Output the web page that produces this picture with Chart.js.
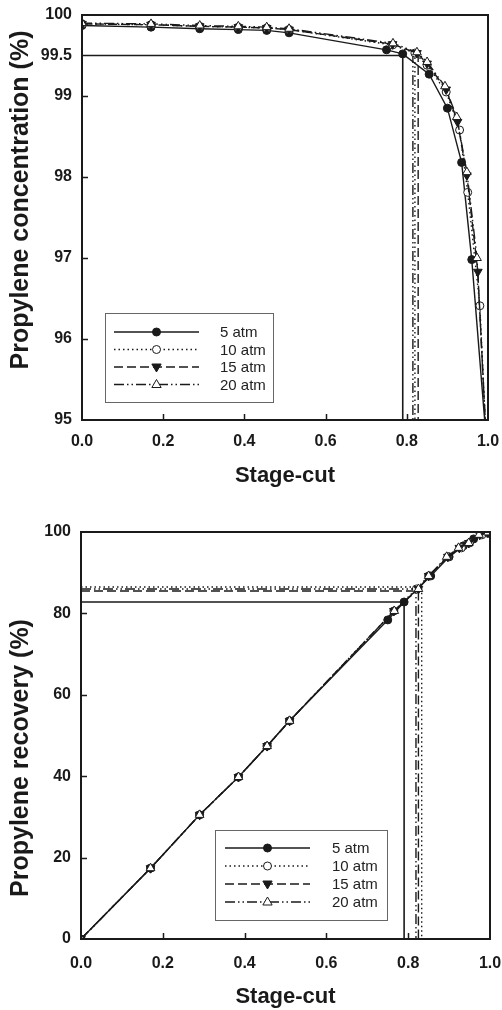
<!DOCTYPE html>
<html>
<head>
<meta charset="utf-8">
<script src="https://cdn.jsdelivr.net/npm/chart.js@4/dist/chart.umd.min.js"></script>
<style>
  html, body { margin: 0; padding: 0; background: #fff; }
  #wrap { position: relative; width: 502px; height: 1010px; }
  canvas { position: absolute; left: 0; }
</style>
</head>
<body>
<div id="wrap">
  <canvas id="conc-chart" width="502" height="500" style="top:0;width:502px;height:500px"></canvas>
  <canvas id="recov-chart" width="502" height="510" style="top:500px;width:502px;height:510px"></canvas>
</div>
<script>
// --- data ---
const pressureLabels = ['5 atm', '10 atm', '15 atm', '20 atm'];

// stage-cut of each simulated run, per feed pressure
const stageCut5  = [0, 0.17, 0.29, 0.385, 0.455, 0.51, 0.75, 0.79, 0.855, 0.90, 0.935, 0.96, 0.995];
const stageCut10 = [0, 0.17, 0.29, 0.385, 0.455, 0.51, 0.765, 0.82, 0.85, 0.897, 0.93, 0.95, 0.98, 0.995];
const stageCut15 = [0, 0.17, 0.29, 0.385, 0.455, 0.51, 0.765, 0.825, 0.85, 0.897, 0.925, 0.948, 0.975, 0.995];
const stageCut20 = [0, 0.17, 0.29, 0.385, 0.455, 0.51, 0.766, 0.825, 0.85, 0.894, 0.923, 0.948, 0.973, 0.995];

// propylene concentration in product (%)
const conc5  = [99.87, 99.85, 99.83, 99.82, 99.81, 99.78, 99.57, 99.52, 99.27, 98.85, 98.18, 96.98, 94.8];
const conc10 = [99.89, 99.88, 99.86, 99.85, 99.84, 99.82, 99.63, 99.53, 99.38, 99.05, 98.58, 97.81, 96.41, 94.8];
const conc15 = [99.89, 99.88, 99.86, 99.85, 99.84, 99.82, 99.64, 99.53, 99.40, 99.08, 98.68, 98.02, 96.83, 94.8];
const conc20 = [99.90, 99.89, 99.87, 99.86, 99.85, 99.83, 99.65, 99.54, 99.42, 99.12, 98.74, 98.06, 97.00, 94.8];

// propylene recovery (%)
const recov5  = [0, 17.4, 30.5, 39.8, 47.4, 53.6, 78.4, 82.8, 89.2, 93.9, 96.6, 98.3, 99.7];
const recov10 = [0, 17.4, 30.5, 39.8, 47.4, 53.6, 80.6, 86.0, 89.2, 93.9, 96.1, 97.3, 99.3, 99.9];
const recov15 = [0, 17.4, 30.5, 39.8, 47.4, 53.6, 80.6, 86.0, 89.2, 93.9, 96.1, 97.3, 99.3, 99.9];
const recov20 = [0, 17.4, 30.5, 39.8, 47.4, 53.6, 80.6, 86.0, 89.2, 93.9, 96.1, 97.3, 99.3, 99.9];

// 99.5 % purity target: stage-cut read-off lines
const concRef5X  = [0, 0.79, 0.79];   const concRef5Y  = [99.5, 99.5, 95];
const concRef10X = [0.82, 0.82];      const concRef10Y = [99.53, 95];
const concRef15X = [0.828, 0.828];    const concRef15Y = [99.53, 95];
const concRef20X = [0.815, 0.815];    const concRef20Y = [99.53, 95];

const recovRef5X  = [0, 0.79, 0.79];    const recovRef5Y  = [82.8, 82.8, 0];
const recovRef10X = [0, 0.833, 0.833];  const recovRef10Y = [86.5, 86.5, 0];
const recovRef15X = [0, 0.825, 0.825];  const recovRef15Y = [85.5, 85.5, 0];
const recovRef20X = [0, 0.819, 0.819];  const recovRef20Y = [86.0, 86.0, 0];

const stageCutTicks = [0, 0.2, 0.4, 0.6, 0.8, 1.0];
const concTicks = [95, 96, 97, 98, 99, 99.5, 100];
const recovTicks = [0, 20, 40, 60, 80, 100];

// --- styling ---
const INK = '#1a1a1a';
const FONT = '"Liberation Sans", Arial, Helvetica, sans-serif';
const lineStyles = [
    { dash: [], point: 'circle', fill: INK, radius: 4, rotation: 0 },
    { dash: [1.5, 3], point: 'circle', fill: '#fff', radius: 4, rotation: 0 },
    { dash: [9, 4], point: 'triangle', fill: INK, radius: 5, rotation: 180 },
    { dash: [10, 3, 1.5, 3, 1.5, 3], point: 'triangle', fill: '#fff', radius: 5, rotation: 0 },
];

const toPoints = (xs, ys) => xs.map((x, i) => ({ x: x, y: ys[i] }));

function seriesDatasets(xLists, yLists) {
    return xLists.map((xs, i) => ({
        label: pressureLabels[i],
        data: toPoints(xs, yLists[i]),
        showLine: true,
        borderColor: INK,
        borderWidth: 1.4,
        borderDash: lineStyles[i].dash,
        pointStyle: lineStyles[i].point,
        pointRadius: lineStyles[i].radius,
        pointRotation: lineStyles[i].rotation,
        pointBackgroundColor: lineStyles[i].fill,
        pointBorderColor: INK,
        pointBorderWidth: 1,
        order: 3 - i,
    }));
}

function refDatasets(xLists, yLists) {
    return xLists.map((xs, i) => ({
        label: 'ref ' + pressureLabels[i],
        data: toPoints(xs, yLists[i]),
        showLine: true,
        borderColor: INK,
        borderWidth: i === 0 ? 1.6 : 1.4,
        borderDash: lineStyles[i].dash,
        pointRadius: 0,
        order: 10,
    }));
}

function drawMarker(ctx, st, x, y) {
    ctx.save();
    ctx.translate(x, y);
    ctx.rotate(st.rotation * Math.PI / 180);
    ctx.beginPath();
    if (st.point === 'circle') {
        ctx.arc(0, 0, st.radius, 0, Math.PI * 2);
    } else {
        const r = st.radius;
        ctx.moveTo(0, -r);
        ctx.lineTo(r * 0.93, r * 0.6);
        ctx.lineTo(-r * 0.93, r * 0.6);
        ctx.closePath();
    }
    ctx.fillStyle = st.fill;
    ctx.fill();
    ctx.lineWidth = 1;
    ctx.strokeStyle = INK;
    ctx.stroke();
    ctx.restore();
}

// plot frame, inward tick marks, y title and the boxed legend
const framePlugin = {
    id: 'frame',
    afterDraw(chart, args, opts) {
        const { ctx, chartArea: a, scales } = chart;
        ctx.save();
        ctx.strokeStyle = INK;
        ctx.lineWidth = 2;
        ctx.strokeRect(a.left, a.top, a.right - a.left, a.bottom - a.top);

        ctx.lineWidth = 1.5;
        ctx.beginPath();
        opts.xTicks.forEach(v => {
            const px = Math.round(scales.x.getPixelForValue(v)) + 0.5;
            ctx.moveTo(px, a.bottom);
            ctx.lineTo(px, a.bottom - 6);
        });
        opts.yTicks.forEach(v => {
            const py = Math.round(scales.y.getPixelForValue(v)) + 0.5;
            ctx.moveTo(a.left, py);
            ctx.lineTo(a.left + 6, py);
        });
        ctx.stroke();

        // rotated y-axis title
        ctx.save();
        ctx.translate(opts.yTitle.x, opts.yTitle.y);
        ctx.rotate(-Math.PI / 2);
        ctx.font = 'bold 25px ' + FONT;
        ctx.fillStyle = INK;
        ctx.textAlign = 'center';
        ctx.textBaseline = 'middle';
        ctx.fillText(opts.yTitle.text, 0, 0);
        ctx.restore();

        const box = opts.legend;
        ctx.fillStyle = '#fff';
        ctx.fillRect(box.x, box.y, box.w, box.h);
        ctx.strokeStyle = '#666';
        ctx.lineWidth = 1;
        ctx.strokeRect(box.x + 0.5, box.y + 0.5, box.w, box.h);
        ctx.font = '15px ' + FONT;
        ctx.textBaseline = 'middle';
        pressureLabels.forEach((label, i) => {
            const y = box.y + box.first + i * box.step;
            ctx.strokeStyle = INK;
            ctx.lineWidth = 1.4;
            ctx.setLineDash(lineStyles[i].dash);
            ctx.beginPath();
            ctx.moveTo(box.lineFrom, y);
            ctx.lineTo(box.lineTo, y);
            ctx.stroke();
            ctx.setLineDash([]);
            drawMarker(ctx, lineStyles[i], (box.lineFrom + box.lineTo) / 2, y);
            ctx.fillStyle = '#222';
            ctx.fillText(label, box.textX, y + 1);
        });
        ctx.restore();
    }
};

function makeChart(id, cfg) {
    return new Chart(document.getElementById(id), {
        type: 'scatter',
        data: { datasets: cfg.datasets },
        options: {
            responsive: false,
            animation: false,
            devicePixelRatio: 1,
            layout: { padding: { top: cfg.top, right: 0, left: 0, bottom: 0 } },
            plugins: {
                legend: { display: false },
                tooltip: { enabled: false },
                frame: cfg.frame,
            },
            scales: {
                x: {
                    type: 'linear',
                    min: 0, max: 1,
                    afterBuildTicks: s => { s.ticks = stageCutTicks.map(v => ({ value: v })); },
                    afterFit: s => {
                        s.height = cfg.xAxisHeight;
                        s.paddingLeft = 0;
                        s.paddingRight = cfg.right;
                    },
                    grid: { display: false },
                    border: { display: false },
                    ticks: {
                        color: INK,
                        padding: cfg.xTickPad,
                        font: { family: FONT, size: 16, weight: 'bold' },
                        callback: v => v.toFixed(1),
                        maxRotation: 0,
                    },
                    title: {
                        display: true,
                        text: 'Stage-cut',
                        color: INK,
                        font: { family: FONT, size: 22, weight: 'bold' },
                        padding: { top: 0, bottom: cfg.xTitlePad },
                    },
                },
                y: {
                    type: 'linear',
                    min: cfg.yMin, max: cfg.yMax,
                    afterBuildTicks: s => { s.ticks = cfg.yTicks.map(v => ({ value: v })); },
                    afterFit: s => {
                        s.width = cfg.yAxisWidth;
                        s.paddingTop = 0;
                        s.paddingBottom = 0;
                    },
                    grid: { display: false },
                    border: { display: false },
                    ticks: {
                        color: INK,
                        padding: 2,
                        font: { family: FONT, size: 16, weight: 'bold' },
                        callback: v => String(v),
                    },
                    title: { display: false },
                },
            },
        },
        plugins: [framePlugin],
    });
}

makeChart('conc-chart', {
    datasets: [
        ...seriesDatasets([stageCut5, stageCut10, stageCut15, stageCut20], [conc5, conc10, conc15, conc20]),
        ...refDatasets([concRef5X, concRef10X, concRef15X, concRef20X], [concRef5Y, concRef10Y, concRef15Y, concRef20Y]),
    ],
    top: 15,
    right: 14,
    xAxisHeight: 80,
    yAxisWidth: 82,
    xTickPad: 4,
    xTitlePad: 11,
    yMin: 95, yMax: 100,
    yTicks: concTicks,
    frame: {
        xTicks: [0.2, 0.4, 0.6, 0.8],
        yTicks: [96, 97, 98, 99],
        yTitle: { text: 'Propylene concentration (%)', x: 21, y: 200 },
        legend: { x: 105, y: 313, w: 168, h: 89, first: 19, step: 17.5, lineFrom: 114, lineTo: 199, textX: 220 },
    },
});

makeChart('recov-chart', {
    datasets: [
        ...seriesDatasets([stageCut5, stageCut10, stageCut15, stageCut20], [recov5, recov10, recov15, recov20]),
        ...refDatasets([recovRef5X, recovRef10X, recovRef15X, recovRef20X], [recovRef5Y, recovRef10Y, recovRef15Y, recovRef20Y]),
    ],
    top: 32,
    right: 12,
    xAxisHeight: 71,
    yAxisWidth: 81,
    xTickPad: 7,
    xTitlePad: 0,
    yMin: 0, yMax: 100,
    yTicks: recovTicks,
    frame: {
        xTicks: [0.2, 0.4, 0.6, 0.8],
        yTicks: [20, 40, 60, 80],
        yTitle: { text: 'Propylene recovery (%)', x: 21, y: 258 },
        legend: { x: 215, y: 330, w: 172, h: 90, first: 18, step: 18, lineFrom: 225, lineTo: 310, textX: 332 },
    },
});
</script>
</body>
</html>
